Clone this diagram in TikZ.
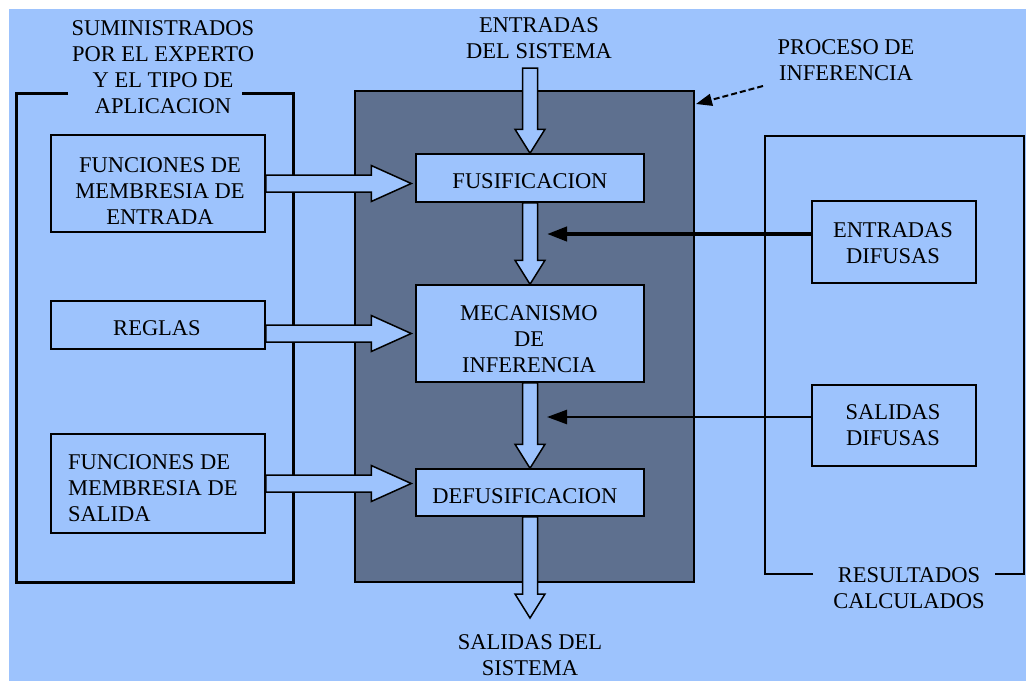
\documentclass[tikz,border=0pt]{standalone}
\usepackage{fontspec}
\setmainfont{Liberation Serif}
\usetikzlibrary{arrows.meta,calc}
\definecolor{bgblue}{RGB}{157,195,253}
\definecolor{darkbox}{RGB}{94,112,143}
\newcommand\vblock[2]{%
  \draw[barrow] ($(#1)+(-7.5,0)$) -- ($(#2)+(-7.5,-24)$) -- ($(#2)+(-15,-24)$) -- (#2)
    -- ($(#2)+(15,-24)$) -- ($(#2)+(7.5,-24)$) -- ($(#1)+(7.5,0)$) -- cycle;}
\newcommand\hblock[2]{%
  \draw[barrow] ($(#1)+(0,-8.5)$) -- ($(#2)+(-40,-8.5)$) -- ($(#2)+(-40,-18)$) -- (#2)
    -- ($(#2)+(-40,18)$) -- ($(#2)+(-40,8.5)$) -- ($(#1)+(0,8.5)$) -- cycle;}
\begin{document}
\begin{tikzpicture}[x=1pt,y=-1pt,
  lbl/.style={font=\fontsize{22.5}{26}\selectfont, align=center, inner sep=0pt},
  boxn/.style={draw, line width=1.5pt, fill=bgblue, inner sep=0pt},
  barrow/.style={draw, line width=1.5pt, fill=bgblue, line join=miter},
  bracketthick/.style={draw, line width=3pt},
  bracketthin/.style={draw, line width=1.5pt},
  solidarrow/.style={-{Triangle[length=20pt,width=14pt]}}
]
\fill[white] (0,0) rectangle (1026,681);
\fill[bgblue] (9,9) rectangle (1026,681);
\useasboundingbox (0,0) rectangle (1026,681);

% process box
\node[draw, line width=1.5pt, fill=darkbox, minimum width=339pt, minimum height=491pt, inner sep=0pt] (proc) at (524.5,336.5) {};

% brackets
\path[bracketthick] (68,93) -- (16,93) -- (16,582) -- (293,582) -- (293,93) -- (242,93);
\path[bracketthin] (813,574) -- (765,574) -- (765,136) -- (1024,136) -- (1024,574) -- (995,574);

% boxes
\node[boxn, minimum width=214pt, minimum height=97pt] (fme) at (158,183.5) {};
\node[boxn, minimum width=214pt, minimum height=48pt] (reg) at (158,325) {};
\node[boxn, minimum width=214pt, minimum height=99pt] (fms) at (158,483.5) {};
\node[boxn, minimum width=228pt, minimum height=48pt] (fus) at (530,178) {};
\node[boxn, minimum width=228pt, minimum height=97pt] (mec) at (530,333.5) {};
\node[boxn, minimum width=228pt, minimum height=47pt] (def) at (530,492.5) {};
\node[boxn, minimum width=164pt, minimum height=82pt] (ed) at (894,242) {};
\node[boxn, minimum width=164pt, minimum height=81pt] (sd) at (894,425.5) {};

% vertical block arrows
\coordinate (inarr) at (530,68);
\coordinate (outarr) at (530,618);
\vblock{inarr}{fus.north}
\vblock{fus.south}{mec.north}
\vblock{mec.south}{def.north}
\vblock{def.south}{outarr}

% horizontal block arrows
\coordinate (h1) at ($(fus.west|-fme.east)+(-4,0)$);
\coordinate (h2s) at (reg.east|-mec.west);
\coordinate (h2) at ($(mec.west)+(-4,0)$);
\coordinate (h3) at ($(def.west|-fms.east)+(-4,0)$);
\hblock{fme.east}{h1}
\hblock{h2s}{h2}
\hblock{fms.east}{h3}

% fuzzy connectors
\coordinate (t1) at (547,234);
\coordinate (t2) at (547,417);
\draw[line width=4pt, solidarrow] (ed.west|-t1) -- (t1);
\draw[line width=2.5pt, solidarrow] (sd.west|-t2) -- (t2);

% dashed pointer
\coordinate (pd) at (763,86);
\coordinate (pt) at (696,104);
\draw[line width=2pt, dash pattern=on 6pt off 3pt, -{Triangle[length=16pt,width=12pt]}] (pd) -- (pt);

% texts
\node[lbl] (supl) at (163,67.5) {SUMINISTRADOS\\POR EL EXPERTO\\Y EL TIPO DE\\APLICACION};
\node[lbl] (entl) at (539,38.5) {ENTRADAS\\DEL SISTEMA};
\node[lbl] (procl) at (846,60) {PROCESO DE\\INFERENCIA};
\node[lbl] (resl) at (909,588.5) {RESULTADOS\\CALCULADOS};
\node[lbl] (sall) at (530,655.5) {SALIDAS DEL\\SISTEMA};

\node[lbl] (fmet) at (160,191.5) {FUNCIONES DE\\MEMBRESIA DE\\ENTRADA};
\node[lbl] (regt) at (157,328) {REGLAS};
\node[lbl, align=left, anchor=west] (fmst) at (68,488) {FUNCIONES DE\\MEMBRESIA DE\\SALIDA};
\node[lbl] (fust) at (530,181.5) {FUSIFICACION};
\node[lbl] (mect) at (529,339) {MECANISMO\\DE\\INFERENCIA};
\node[lbl] (deft) at (525,496) {DEFUSIFICACION};
\node[lbl] (edt) at (893,243) {ENTRADAS\\DIFUSAS};
\node[lbl] (sdt) at (893,425) {SALIDAS\\DIFUSAS};
\end{tikzpicture}
\end{document}
